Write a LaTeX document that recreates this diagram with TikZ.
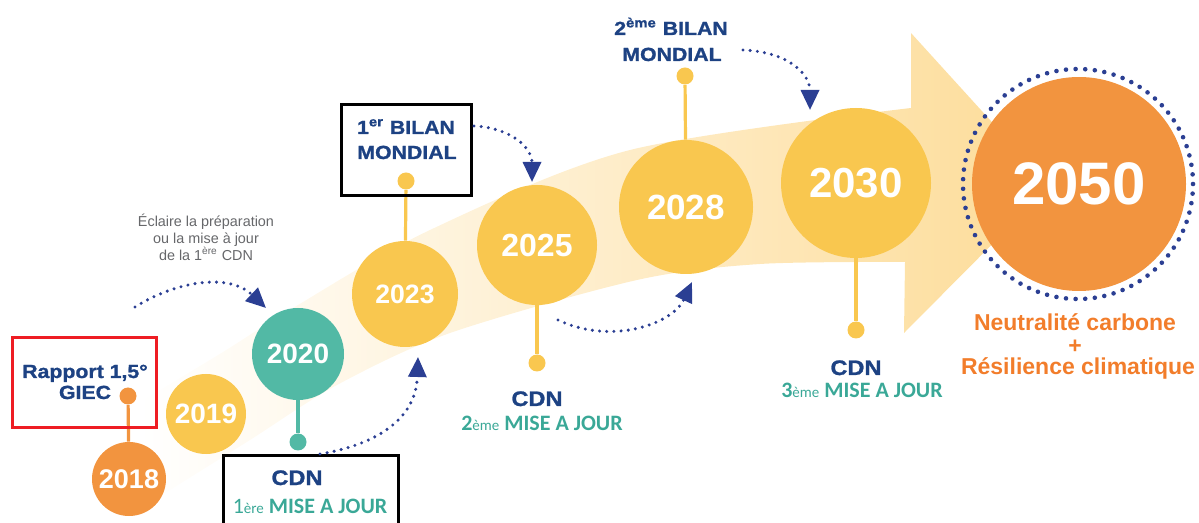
\documentclass[tikz,border=0pt]{standalone}
\usepackage{fontspec}
\setmainfont{Liberation Sans}
\newfontfamily\widefont{Liberation Sans}[FakeStretch=1.12,FakeBold=1.2]
\newfontfamily\carl{Carlito}
\usetikzlibrary{arrows.meta}
\definecolor{navyT}{HTML}{1D4283}
\definecolor{dotblue}{HTML}{2B3F93}
\definecolor{tealC}{HTML}{52B9A5}
\definecolor{tealT}{HTML}{3AA897}
\definecolor{yel}{HTML}{F9C74F}
\definecolor{orC}{HTML}{F2943F}
\definecolor{orT}{HTML}{F27D2B}
\definecolor{redB}{HTML}{EE1D23}
\definecolor{grayT}{HTML}{66676A}
\definecolor{bandM}{HTML}{FEEFD0}
\definecolor{bandR}{HTML}{FDDC98}
\begin{document}
\begin{tikzpicture}[x=0.5pt,y=-0.5pt,
  yr/.style={circle, inner sep=0pt, text=white},
  pinD/.style={circle, inner sep=0pt, minimum size=8.5pt},
  stem/.style={line width=1.6pt},
  lbl/.style={anchor=base, inner sep=0pt, text=navyT, font={\widefont\fontsize{9.5}{11}\selectfont\bfseries}},
  cdn/.style={anchor=base, inner sep=0pt, text=navyT, font={\widefont\fontsize{10.5}{12}\selectfont\bfseries}},
  maj/.style={anchor=base, inner sep=0pt, text=tealT, font={\carl\fontsize{11}{13}\selectfont}},
  frameB/.style={draw, line width=1.5pt, inner sep=0pt},
  res/.style={anchor=base, inner sep=0pt, text=orT, font={\fontsize{11.5}{13}\selectfont\bfseries}},
  note/.style={anchor=base, inner sep=0pt, text=grayT, font={\fontsize{7.2}{8}\selectfont}},
  dotarr/.style={draw=dotblue, line width=1.7pt, line cap=round, dash pattern=on 0pt off 3.6pt, -{Triangle[length=10pt,width=9pt,fill=dotblue]}}
]
\useasboundingbox (0,0) rectangle (1199,523);
\clip (0,0) rectangle (1199,523);
% band arrow
\shade[left color=white, middle color=bandM, right color=bandR]
  plot[smooth] coordinates {(140,402) (223,352) (293,308) (430,230) (630,150) (911,108)}
  -- (911,33) -- (1050,186) -- (904,333) -- (905,262)
  -- plot[smooth] coordinates {(905,262) (760,264) (637,280) (450,333) (337,385) (250,440) (167,492) (140,510)}
  -- cycle;
% year circles
\node[yr, fill=orC, minimum size=37pt, font={\fontsize{13.5}{16}\selectfont\bfseries}] (y18) at (129,479) {2018};
\node[yr, fill=yel, minimum size=40pt, font={\fontsize{14}{16}\selectfont\bfseries}] (y19) at (206,414) {2019};
\node[yr, fill=tealC, minimum size=46pt, font={\fontsize{14}{16}\selectfont\bfseries}] (y20) at (298,354) {2020};
\node[yr, fill=yel, minimum size=53pt, font={\fontsize{13.3}{16}\selectfont\bfseries}] (y23) at (405,294) {2023};
\node[yr, fill=yel, minimum size=60pt, font={\fontsize{16}{18}\selectfont\bfseries}] (y25) at (537,245) {2025};
\node[yr, fill=yel, minimum size=67pt, font={\fontsize{17.5}{20}\selectfont\bfseries}] (y28) at (686,207) {2028};
\node[yr, fill=yel, minimum size=75pt, font={\fontsize{21}{24}\selectfont\bfseries}] (y30) at (856,183) {2030};
\node[yr, fill=orC, minimum size=107pt, font={\fontsize{30}{34}\selectfont\bfseries}] (y50) at (1079,184) {2050};
% dotted ring
\foreach \a in {0,4.8,...,359} \fill[dotblue] (1078,184) ++(\a:115) circle (2.3);
% pins and stems
\node[pinD, fill=orC] (p18) at (128,396) {};
\node[pinD, fill=tealC] (p20) at (298,442) {};
\node[pinD, fill=yel] (p23) at (406,181) {};
\node[pinD, fill=yel] (p25) at (537,363) {};
\node[pinD, fill=yel] (p28) at (685,76) {};
\node[pinD, fill=yel] (p30) at (856,330) {};
\draw[stem, orC] (p18) -- (y18);
\draw[stem, tealC] (p20) -- (y20);
\draw[stem, yel] (p23) -- (y23);
\draw[stem, yel] (p25) -- (y25);
\draw[stem, yel] (p28) -- (y28);
\draw[stem, yel] (p30) -- (y30);
% frames
\node[frameB, draw=redB, minimum width=72pt, minimum height=45pt] (box1) at (84,383) {};
\node[frameB, draw=black, minimum width=65pt, minimum height=45.5pt] (box2) at (406,150.5) {};
\node[frameB, draw=black, minimum width=87.5pt, minimum height=40pt] (box3) at (310.5,495) {};
% labels
\node[lbl] (rap1) at (85,378) {Rapport 1,5°};
\node[lbl] (rap2) at (85,399) {GIEC};
\node[lbl] (bil1a) at (406,134) {1\textsuperscript{er} BILAN};
\node[lbl] (bil1b) at (407,159) {MONDIAL};
\node[lbl] (bil2a) at (671,35) {2\textsuperscript{ème} BILAN};
\node[lbl] (bil2b) at (672,61) {MONDIAL};
\node[cdn] (cdn1) at (297,485) {CDN};
\node[maj] (maj1) at (310,513) {1{\fontsize{7.5}{9}\selectfont ère} \bfseries MISE A JOUR};
\node[cdn] (cdn2) at (537,406) {CDN};
\node[maj] (maj2) at (542,430) {\bfseries 2{\mdseries\fontsize{7.5}{9}\selectfont ème} MISE A JOUR};
\node[cdn] (cdn3) at (856,375) {CDN};
\node[maj] (maj3) at (862,398) {\bfseries 3{\mdseries\fontsize{7.5}{9}\selectfont ème} MISE A JOUR};
\node[res] (res1) at (1075,331) {Neutralité carbone};
\node[res, anchor=center] (res2) at (1075,347) {+};
\node[res] (res3) at (1078,375) {Résilience climatique};
\node[note] (n1) at (206,227) {Éclaire la préparation};
\node[note] (n2) at (206,244) {ou la mise à jour};
\node[note] (n3) at (206,261) {de la 1\textsuperscript{ère} CDN};
% dotted arrows
\coordinate (a1s) at (135,307); \coordinate (a1e) at (266,308);
\coordinate (a2s) at (320,454); \coordinate (a2e) at (418,357);
\coordinate (a3s) at (474,126); \coordinate (a3e) at (532,182);
\coordinate (a4s) at (558,320); \coordinate (a4e) at (692,282);
\coordinate (a5s) at (743,50);  \coordinate (a5e) at (810,110);
\draw[dotarr] (a1s) .. controls (175,282) and (228,272) .. (a1e);
\draw[dotarr] (a2s) .. controls (375,445) and (416,420) .. (a2e);
\draw[dotarr] (a3s) .. controls (512,128) and (532,148) .. (a3e);
\draw[dotarr] (a4s) .. controls (610,345) and (672,325) .. (a4e);
\draw[dotarr] (a5s) .. controls (790,52) and (810,75) .. (a5e);
\end{tikzpicture}
\end{document}
